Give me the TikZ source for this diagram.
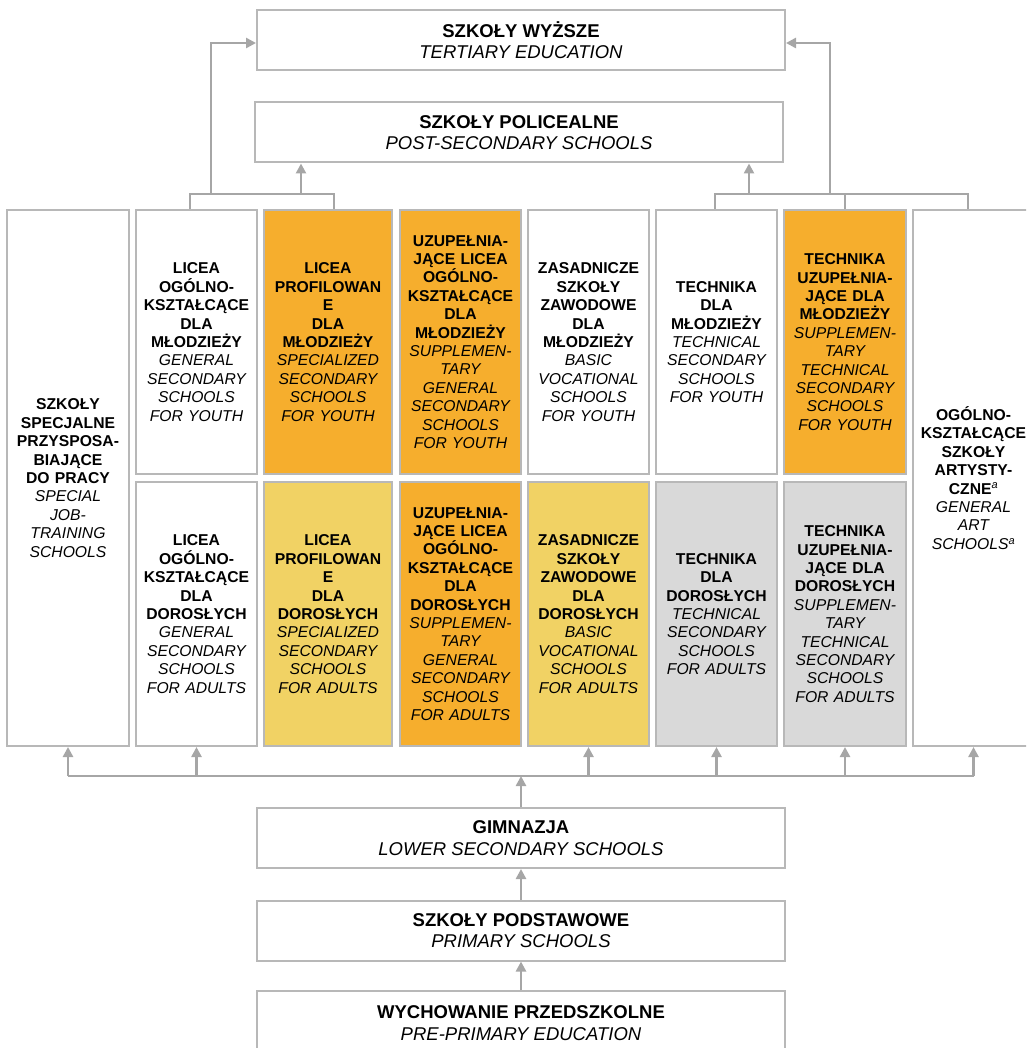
\documentclass[tikz,border=0pt]{standalone}
\usepackage{fontspec}
\setmainfont{Liberation Sans}
\usetikzlibrary{arrows.meta}
\definecolor{borderg}{HTML}{B8B8B8}
\definecolor{arrg}{HTML}{A6A6A6}
\definecolor{orng}{HTML}{F6AE2D}
\definecolor{yelw}{HTML}{F1D264}
\definecolor{lgry}{HTML}{D9D9D9}
\begin{document}
\begin{tikzpicture}[x=1pt,y=-1pt,
  wide/.style={draw=borderg, line width=2pt, inner sep=0pt, align=center,
    minimum width=528pt, minimum height=60pt, font=\fontsize{18.5}{21.5}\selectfont},
  colbox/.style={draw=borderg, line width=2pt, inner sep=0pt, align=center,
    text width=#1, minimum width=#1, font=\fontsize{15.7}{18.4}\selectfont},
  full/.style={minimum height=536pt},
  half/.style={minimum height=264pt},
  conn/.style={draw=arrg, line width=1.8pt},
  arr/.style={draw=arrg, line width=2.6pt, -{Triangle[length=10pt,width=10pt]}}
]
\useasboundingbox (0,0) rectangle (1026,1048);
\clip (0,0) rectangle (1026,1048);

% wide boxes
\node[wide] (tert) at (521,40) {\textbf{SZKOŁY WYŻSZE}\\\textit{TERTIARY EDUCATION}};
\node[wide] (post) at (519,132.5) {\textbf{SZKOŁY POLICEALNE}\\\textit{POST-SECONDARY SCHOOLS}};
\node[wide] (gim) at (521,838) {\textbf{GIMNAZJA}\\\textit{LOWER SECONDARY SCHOOLS}};
\node[wide] (prim) at (521,930.5) {\textbf{SZKOŁY PODSTAWOWE}\\\textit{PRIMARY SCHOOLS}};
\node[wide, minimum height=64pt] (pre) at (521,1023) {\textbf{WYCHOWANIE PRZEDSZKOLNE}\\\textit{PRE-PRIMARY EDUCATION}};

% full-height columns
\node[colbox=122pt, full, fill=white] (c1) at (68,478)
 {{\bfseries SZKOŁY\\SPECJALNE\\PRZYSPOSA-\\BIAJĄCE\\DO PRACY\\}{\itshape SPECIAL\\JOB-\\TRAINING\\SCHOOLS}};
\node[colbox=121pt, full, fill=white] (c8) at (973.5,478)
 {{\bfseries OGÓLNO-\\KSZTAŁCĄCE\\SZKOŁY\\ARTYSTY-\\CZNE\textsuperscript{\mdseries\itshape a}\\}{\itshape GENERAL\\ART\\SCHOOLS\textsuperscript{a}}};

% upper row (youth)
\node[colbox=121pt, half, fill=white] (u2) at (196.5,342)
 {{\bfseries LICEA\\OGÓLNO-\\KSZTAŁCĄCE\\DLA\\MŁODZIEŻY\\}{\itshape GENERAL\\SECONDARY\\SCHOOLS\\FOR YOUTH}};
\node[colbox=128pt, half, fill=orng] (u3) at (328,342)
 {{\bfseries LICEA\\PROFILOWAN\\E\\DLA\\MŁODZIEŻY\\}{\itshape SPECIALIZED\\SECONDARY\\SCHOOLS\\FOR YOUTH}};
\node[colbox=121pt, half, fill=orng] (u4) at (460.5,342)
 {{\bfseries UZUPEŁNIA-\\JĄCE LICEA\\OGÓLNO-\\KSZTAŁCĄCE\\DLA\\MŁODZIEŻY\\}{\itshape SUPPLEMEN-\\TARY\\GENERAL\\SECONDARY\\SCHOOLS\\FOR YOUTH}};
\node[colbox=121pt, half, fill=white] (u5) at (588.5,342)
 {{\bfseries ZASADNICZE\\SZKOŁY\\ZAWODOWE\\DLA\\MŁODZIEŻY\\}{\itshape BASIC\\VOCATIONAL\\SCHOOLS\\FOR YOUTH}};
\node[colbox=121pt, half, fill=white] (u6) at (716.5,342)
 {{\bfseries TECHNIKA\\DLA\\MŁODZIEŻY\\}{\itshape TECHNICAL\\SECONDARY\\SCHOOLS\\FOR YOUTH}};
\node[colbox=122pt, half, fill=orng] (u7) at (845,342)
 {{\bfseries TECHNIKA\\UZUPEŁNIA-\\JĄCE DLA\\MŁODZIEŻY\\}{\itshape SUPPLEMEN-\\TARY\\TECHNICAL\\SECONDARY\\SCHOOLS\\FOR YOUTH}};

% lower row (adults)
\node[colbox=121pt, half, fill=white] (l2) at (196.5,614)
 {{\bfseries LICEA\\OGÓLNO-\\KSZTAŁCĄCE\\DLA\\DOROSŁYCH\\}{\itshape GENERAL\\SECONDARY\\SCHOOLS\\FOR ADULTS}};
\node[colbox=128pt, half, fill=yelw] (l3) at (328,614)
 {{\bfseries LICEA\\PROFILOWAN\\E\\DLA\\DOROSŁYCH\\}{\itshape SPECIALIZED\\SECONDARY\\SCHOOLS\\FOR ADULTS}};
\node[colbox=121pt, half, fill=orng] (l4) at (460.5,614)
 {{\bfseries UZUPEŁNIA-\\JĄCE LICEA\\OGÓLNO-\\KSZTAŁCĄCE\\DLA\\DOROSŁYCH\\}{\itshape SUPPLEMEN-\\TARY\\GENERAL\\SECONDARY\\SCHOOLS\\FOR ADULTS}};
\node[colbox=121pt, half, fill=yelw] (l5) at (588.5,614)
 {{\bfseries ZASADNICZE\\SZKOŁY\\ZAWODOWE\\DLA\\DOROSŁYCH\\}{\itshape BASIC\\VOCATIONAL\\SCHOOLS\\FOR ADULTS}};
\node[colbox=121pt, half, fill=lgry] (l6) at (716.5,614)
 {{\bfseries TECHNIKA\\DLA\\DOROSŁYCH\\}{\itshape TECHNICAL\\SECONDARY\\SCHOOLS\\FOR ADULTS}};
\node[colbox=122pt, half, fill=lgry] (l7) at (845,614)
 {{\bfseries TECHNIKA\\UZUPEŁNIA-\\JĄCE DLA\\DOROSŁYCH\\}{\itshape SUPPLEMEN-\\TARY\\TECHNICAL\\SECONDARY\\SCHOOLS\\FOR ADULTS}};

% top brackets
\coordinate (LB1) at (190,194);
\coordinate (LB2) at (334,194);
\coordinate (LT) at (211,194);
\coordinate (LP) at (301,194);
\draw[conn] (u2.north -| LB1) -- (LB1) -- (LB2) -- (u3.north -| LB2);
\draw[arr] (LT) |- ([yshift=-3pt]tert.west);
\draw[arr] (LP) -- (post.south -| LP);

\coordinate (RB1) at (715,194);
\coordinate (RB3) at (968,194);
\coordinate (RT) at (830,194);
\coordinate (RP) at (749,194);
\draw[conn] (u6.north -| RB1) -- (RB1) -- (RB3) -- (c8.north -| RB3);
\draw[conn] (u7.north) -- (u7.north |- RB1);
\draw[arr] (RT) |- ([yshift=-3pt]tert.east);
\draw[arr] (RP) -- (post.south -| RP);

% bottom bus
\coordinate (bus) at (520,776);
\draw[conn] (c1.south |- bus) -- (c8.south |- bus);
\foreach \n in {c1,l2,l5,l6,l7,c8}{\draw[arr] (\n.south |- bus) -- (\n.south);}
\draw[arr] (gim.north) -- (gim.north |- bus);
\draw[arr] (prim.north) -- (gim.south);
\draw[arr] (pre.north) -- (prim.south);
\end{tikzpicture}
\end{document}
